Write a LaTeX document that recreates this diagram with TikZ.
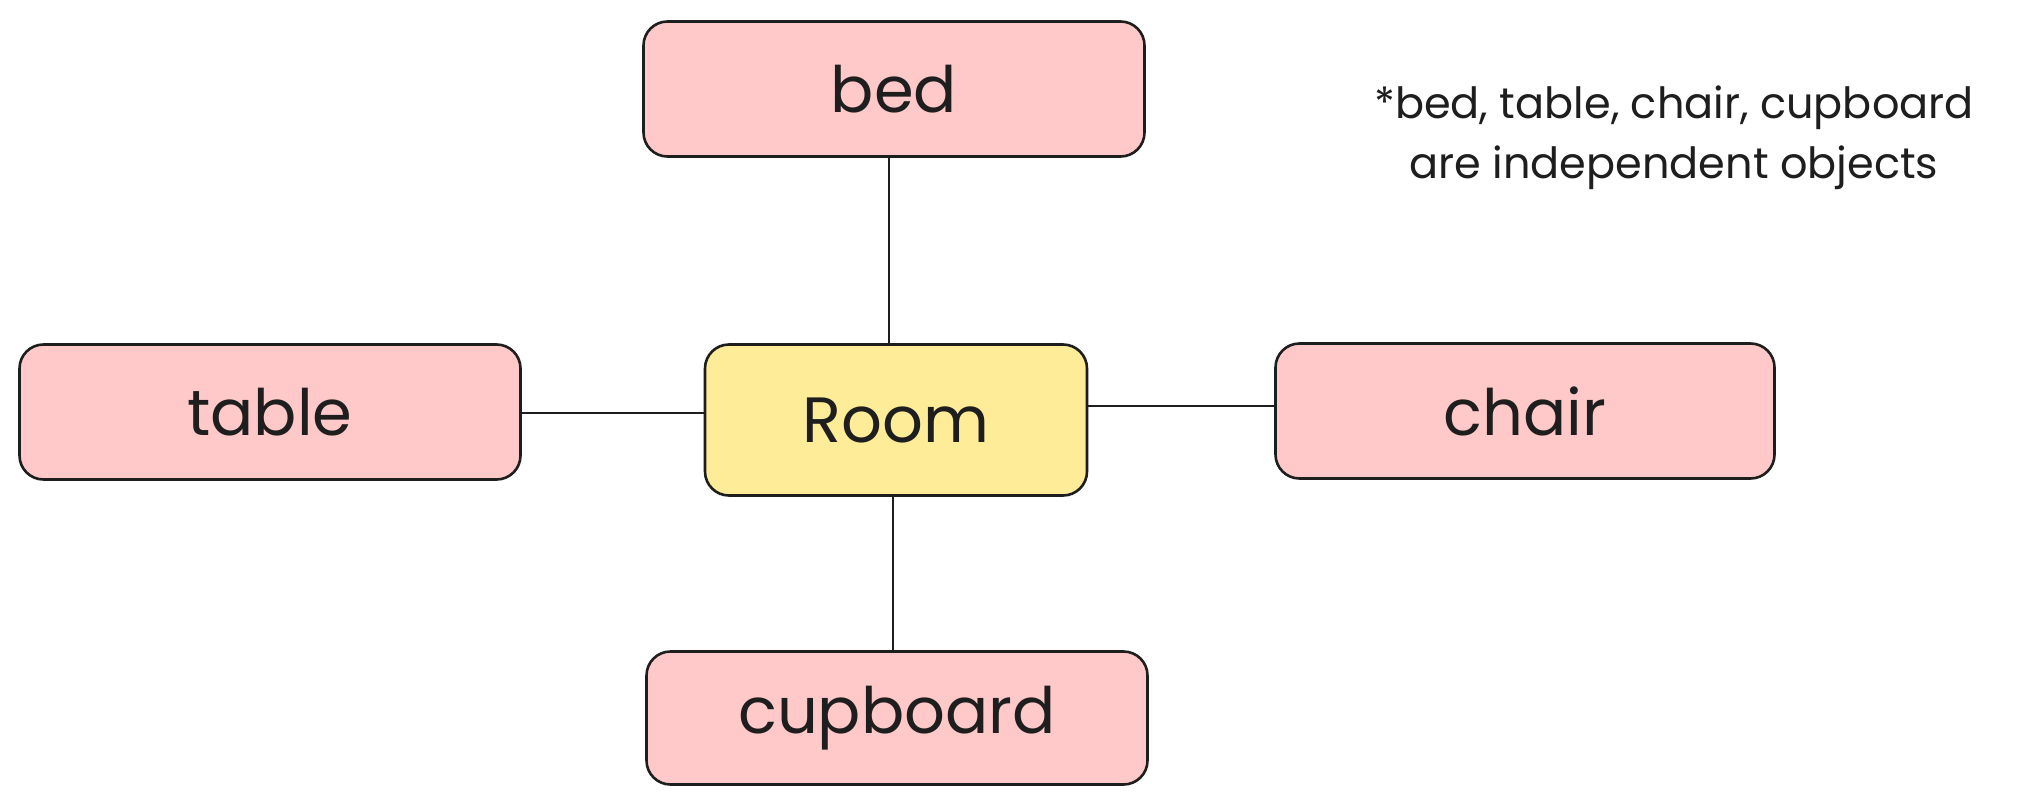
\documentclass[tikz,border=0pt]{standalone}
\usepackage{fontspec}
\setmainfont{Poppins}
\definecolor{stroke}{HTML}{1E1E1E}
\definecolor{pinkfill}{HTML}{FFC9C9}
\definecolor{yellowfill}{HTML}{FFEC99}
\tikzset{
  box/.style={draw=stroke, line width=2.6pt, rounded corners=24pt, inner sep=0pt,
    text=stroke, font=\fontsize{64}{70}\selectfont},
  pinkbox/.style={box, fill=pinkfill, minimum width=501pt, minimum height=135pt},
  roombox/.style={box, fill=yellowfill, minimum width=382pt, minimum height=151pt},
  link/.style={draw=stroke, line width=1.6pt},
  note/.style={text=stroke, font=\fontsize{43}{60}\selectfont, align=center}
}
\begin{document}
\begin{tikzpicture}[x=1pt,y=-1pt]
\useasboundingbox[fill=white] (0,0) rectangle (2029,808);
\node[pinkbox] (bed) at (894,89) {bed};
\node[pinkbox] (table) at (270,412) {table};
\node[roombox] (room) at (896,420) {Room};
\node[pinkbox, minimum width=499pt] (chair) at (1525,411) {chair};
\node[pinkbox, minimum height=133pt] (cupboard) at (897,718) {cupboard};
\node[note] (note) at (1674,138) {*bed, table, chair, cupboard\\are independent objects};
\draw[link] ([xshift=-5pt]bed.south) -- ([xshift=-5pt]bed.south |- room.north);
\draw[link] ([xshift=-3pt]room.south) -- ([xshift=-3pt]room.south |- cupboard.north);
\draw[link] ([yshift=-1pt]table.east) -- ([yshift=-1pt]table.east -| room.west);
\draw[link] ([yshift=5pt]chair.west -| room.east) -- ([yshift=5pt]chair.west);
\end{tikzpicture}
\end{document}
